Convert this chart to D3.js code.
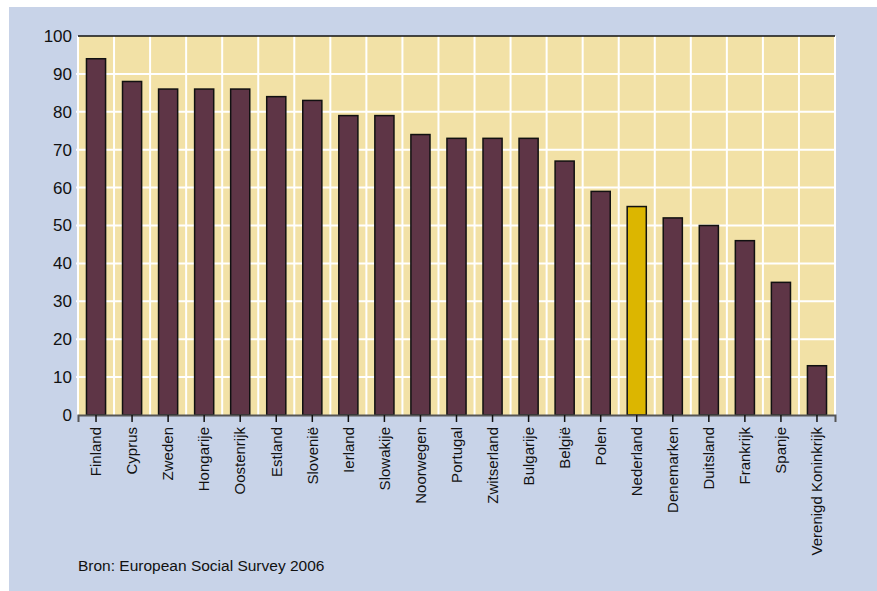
<!DOCTYPE html>
<html>
<head>
<meta charset="utf-8">
<script src="https://cdn.jsdelivr.net/npm/d3@7"></script>
<style>
html,body{margin:0;padding:0;background:#fff;}
svg{display:block;}
text{font-family:"Liberation Sans",Arial,sans-serif;fill:#111;}
</style>
</head>
<body>
<svg id="chart" width="877" height="591"></svg>
<script>
const categories = ["Finland","Cyprus","Zweden","Hongarije","Oostenrijk","Estland","Slovenië","Ierland","Slowakije","Noorwegen","Portugal","Zwitserland","Bulgarije","België","Polen","Nederland","Denemarken","Duitsland","Frankrijk","Spanje","Verenigd Koninkrijk"];
const values = [94,88,86,86,86,84,83,79,79,74,73,73,73,67,59,55,52,50,46,35,13];
const yTicks = [0,10,20,30,40,50,60,70,80,90,100];
const highlight = "Nederland";
const source = "Bron: European Social Survey 2006";

const svg = d3.select("#chart");
const W = 877, H = 591;
const L = 78, R = 835, T = 36, B = 415;

svg.append("rect").attr("x",9).attr("y",7).attr("width",W-9).attr("height",H-7).attr("fill","#c8d3e8");

const x = d3.scaleBand().domain(categories).range([L,R]).paddingInner(0.47).paddingOuter(0.235);
const y = d3.scaleLinear().domain([0,100]).range([B,T]);

svg.append("rect").attr("x",L).attr("y",T).attr("width",R-L).attr("height",B-T).attr("fill","#f2e1a6");

// vertical gridlines at column boundaries
const step = x.step();
const vBounds = d3.range(categories.length+1).map(k => L + step*k);
svg.append("g").selectAll("line").data(vBounds).join("line")
  .attr("x1",d=>d).attr("x2",d=>d).attr("y1",T).attr("y2",B)
  .attr("stroke","#fff").attr("stroke-width",2);

// horizontal gridlines
svg.append("g").selectAll("line").data(yTicks.filter(t=>t>0&&t<100)).join("line")
  .attr("x1",L-2).attr("x2",R).attr("y1",d=>y(d)).attr("y2",d=>y(d))
  .attr("stroke","#fff").attr("stroke-width",2);

// bars
svg.append("g").selectAll("rect").data(categories).join("rect")
  .attr("x",d=>x(d)).attr("width",x.bandwidth())
  .attr("y",(d,i)=>y(values[i])).attr("height",(d,i)=>y(0)-y(values[i]))
  .attr("fill",d=>d===highlight?"#dcb600":"#5e3546")
  .attr("stroke","#111").attr("stroke-width",1.5);

// top line
svg.append("line").attr("x1",L).attr("x2",R).attr("y1",y(100)).attr("y2",y(100))
  .attr("stroke","#111").attr("stroke-width",1.5);

// x axis
const xAxis = svg.append("g").attr("transform",`translate(0,${B})`)
  .call(d3.axisBottom(x).tickSize(7).tickPadding(6));
xAxis.select(".domain").attr("stroke","#555").attr("stroke-width",2);
xAxis.selectAll(".tick line").attr("stroke","#111").attr("stroke-width",1.5);
xAxis.selectAll(".tick text")
  .attr("font-size",15)
  .attr("font-family",null)
  .attr("fill","#111")
  .attr("transform","rotate(-90)")
  .attr("text-anchor","end")
  .attr("x",-12).attr("y",0).attr("dy","0.35em");

// y axis labels
const yAxis = svg.append("g").attr("transform",`translate(${L},0)`)
  .call(d3.axisLeft(y).tickValues(yTicks).tickSize(0).tickPadding(6));
yAxis.select(".domain").remove();
yAxis.selectAll(".tick text").attr("font-size",17).attr("font-family",null).attr("fill","#111");

svg.append("text").attr("x",78).attr("y",571).attr("font-size",15.5).text(source);
</script>
</body>
</html>
